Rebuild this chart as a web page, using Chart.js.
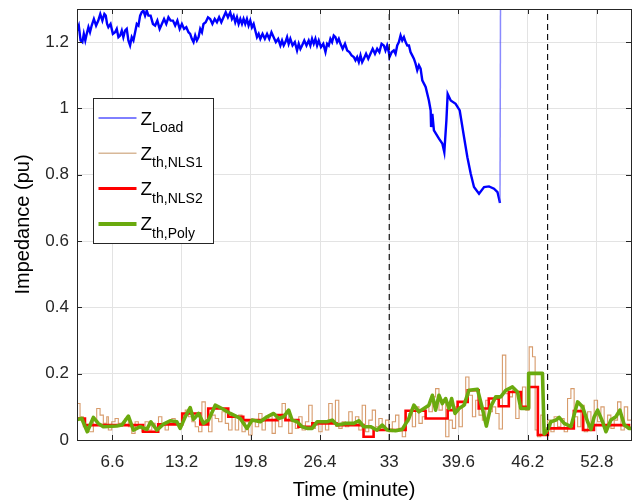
<!DOCTYPE html>
<html>
<head>
<meta charset="utf-8">
<script src="https://cdn.jsdelivr.net/npm/chart.js@4.4.1/dist/chart.umd.min.js"></script>
<style>
    html, body { margin: 0; padding: 0; background: #fff; }
    #wrap { width: 635px; height: 504px; }
</style>
</head>
<body>
<div id="wrap"><canvas id="chart" width="635" height="504"></canvas></div>
<script>
// --- data (time in minutes, impedance in pu) ---
const xTicks = [6.6, 13.2, 19.8, 26.4, 33, 39.6, 46.2, 52.8];
const yTicks = [0, 0.2, 0.4, 0.6, 0.8, 1, 1.2];
const markerTimes = [33.0, 48.1];

const loadTime = [3.23, 3.40, 3.57, 3.74, 3.88, 4.02, 4.16, 4.32, 4.47, 4.63, 4.84, 5.05, 5.26, 5.45, 5.65, 5.84,
    5.97, 6.10, 6.22, 6.43, 6.65, 6.86, 7.02, 7.18, 7.34, 7.50, 7.65, 7.81, 7.97, 8.13, 8.29, 8.45, 8.61, 8.77, 8.93, 9.09, 9.25,
    9.40, 9.56, 9.72, 9.88, 10.04, 10.25, 10.47, 10.68, 10.89, 11.11, 11.32, 11.53, 11.74, 11.95, 12.16, 12.38, 12.59, 12.80, 13.02, 13.23,
    13.44, 13.65, 13.86, 14.02, 14.18, 14.34, 14.50, 14.66, 14.82, 14.98, 15.14, 15.29, 15.50, 15.72, 15.93, 16.14, 16.36, 16.57, 16.78, 16.99, 17.20, 17.41, 17.62, 17.84,
    18.00, 18.16, 18.32, 18.48, 18.64, 18.80, 18.96, 19.11, 19.27, 19.43, 19.59, 19.75, 19.91, 20.07, 20.23, 20.39, 20.55, 20.71, 20.92, 21.14, 21.35, 21.56, 21.77, 21.98, 22.19, 22.41, 22.62,
    22.78, 22.94, 23.10, 23.26, 23.41, 23.57, 23.78, 24.00, 24.21, 24.37, 24.53, 24.69, 24.90, 25.11, 25.32, 25.48, 25.64, 25.80, 25.96, 26.12, 26.28, 26.49, 26.71, 26.92,
    27.08, 27.23, 27.39, 27.55, 27.71, 27.87, 28.03, 28.19, 28.35, 28.56, 28.78, 28.99, 29.20, 29.41, 29.62, 29.78, 29.94, 30.10, 30.26, 30.42, 30.58, 30.79, 31.00, 31.21, 31.42, 31.64, 31.85, 32.06, 32.27, 32.48, 32.64, 32.80, 32.96,
    33.03, 33.24, 33.44, 33.60, 33.76, 33.92, 34.08, 34.24, 34.40, 34.56, 34.72, 34.88, 35.03, 35.19, 35.35, 35.51, 35.67, 35.83, 35.99,
    36.15, 36.47, 36.78, 36.95, 36.99, 37.11, 37.26, 37.74, 38.06, 38.25, 38.45, 38.57, 38.86, 39.33, 39.72, 40.13, 40.45, 40.77, 41.08, 41.56, 42.04, 42.51, 42.99, 43.32, 43.56, 43.63];
const loadVals = [1.235, 1.25, 1.205, 1.20, 1.225, 1.205, 1.225, 1.245, 1.23, 1.25, 1.27, 1.25, 1.265, 1.285, 1.265, 1.285,
    1.28, 1.255, 1.245, 1.255, 1.225, 1.23, 1.24, 1.215, 1.22, 1.235, 1.215, 1.235, 1.24, 1.205, 1.19, 1.215, 1.205, 1.23, 1.255, 1.25, 1.28,
    1.29, 1.295, 1.28, 1.295, 1.28, 1.28, 1.255, 1.25, 1.265, 1.24, 1.255, 1.27, 1.255, 1.275, 1.265, 1.265, 1.25, 1.265, 1.24, 1.255,
    1.24, 1.245, 1.23, 1.225, 1.21, 1.20, 1.22, 1.205, 1.215, 1.24, 1.23, 1.255, 1.26, 1.275, 1.27, 1.255, 1.27, 1.26, 1.275, 1.26, 1.275, 1.29, 1.275, 1.29,
    1.27, 1.28, 1.26, 1.275, 1.255, 1.27, 1.255, 1.27, 1.255, 1.27, 1.25, 1.265, 1.245, 1.255, 1.235, 1.215, 1.225, 1.21, 1.225, 1.21, 1.225, 1.21, 1.23, 1.215, 1.20, 1.21, 1.19,
    1.205, 1.19, 1.20, 1.215, 1.195, 1.21, 1.19, 1.20, 1.175, 1.195, 1.18, 1.19, 1.205, 1.19, 1.205, 1.19, 1.21, 1.195, 1.21, 1.19, 1.205, 1.185, 1.195, 1.17,
    1.195, 1.19, 1.21, 1.20, 1.22, 1.215, 1.20, 1.21, 1.195, 1.18, 1.195, 1.175, 1.17, 1.16, 1.155, 1.145, 1.155, 1.14, 1.16, 1.14, 1.15, 1.165, 1.15, 1.165, 1.18, 1.165, 1.18, 1.17, 1.195, 1.19, 1.175, 1.19, 1.17,
    1.155, 1.17, 1.175, 1.165, 1.19, 1.20, 1.22, 1.205, 1.215, 1.20, 1.19, 1.19, 1.17, 1.16, 1.15, 1.135, 1.115, 1.13, 1.12,
    1.085, 1.065, 1.024, 0.994, 0.944, 0.984, 0.934, 0.909, 0.894, 0.868, 0.964, 1.044, 1.024, 1.014, 0.994, 0.914, 0.853, 0.803, 0.763, 0.743, 0.763, 0.765, 0.758, 0.748, 0.715, 1.6];

const nls1Time = [3.23, 3.52, 3.83, 4.31, 4.79, 5.11, 5.43, 5.74, 6.07, 6.22, 6.54, 6.86, 7.17, 7.50, 7.81,
    8.13, 8.45, 8.77, 9.08, 9.41, 9.72, 10.04, 10.36, 10.68, 11.00, 11.32, 11.63, 11.95, 12.27, 12.59,
    12.91, 13.23, 13.55, 13.86, 14.18, 14.50, 14.82, 15.14, 15.46, 15.77, 16.10, 16.41, 16.73, 17.05, 17.37,
    17.68, 18.01, 18.32, 18.64, 18.96, 19.27, 19.59, 19.92, 20.23, 20.55, 20.87, 21.19, 21.50, 21.83, 22.14,
    22.46, 22.78, 23.10, 23.41, 23.74, 24.05, 24.37, 24.69, 25.01, 25.32, 25.65, 25.96, 26.28, 26.60, 26.92,
    27.23, 27.56, 27.87, 28.19, 28.51, 28.83, 29.14, 29.47, 29.78, 30.10, 30.42, 30.74, 31.05, 31.38, 31.69,
    32.01, 32.33, 32.65, 32.96, 33.29, 33.60, 33.92, 34.24, 34.56, 34.87, 35.20, 35.51, 35.83, 36.15, 36.47,
    36.78, 37.11, 37.42, 37.74, 38.06, 38.38, 38.69, 39.02, 39.33, 39.65, 39.97, 40.29, 40.60, 40.93, 41.24,
    41.56, 41.88, 42.20, 42.51, 42.84, 43.15, 43.47, 43.79, 44.11, 44.42, 44.75, 45.06, 45.38, 45.70, 46.02,
    46.34, 46.66, 46.91, 47.14, 47.45, 47.77, 48.09, 48.41, 48.72, 49.05, 49.36, 49.68, 50.00, 50.32, 50.63,
    50.96, 51.27, 51.59, 51.91, 52.23, 52.54, 52.86, 53.18, 53.49, 53.82, 54.13, 54.45, 54.77, 55.09, 55.41,
    55.73, 56.05];
const nls1Vals = [0.110, 0.070, 0.040, 0.025, 0.060, 0.095, 0.075, 0.050, 0.070, 0.030, 0.055, 0.065, 0.050, 0.045, 0.065,
    0.040, 0.020, 0.055, 0.040, 0.025, 0.055, 0.030, 0.050, 0.035, 0.070, 0.045, 0.030, 0.055, 0.065, 0.050,
    0.040, 0.075, 0.090, 0.070, 0.055, 0.040, 0.025, 0.115, 0.060, 0.025, 0.075, 0.065, 0.055, 0.085, 0.050,
    0.030, 0.070, 0.030, 0.075, 0.025, 0.055, 0.015, 0.060, 0.040, 0.080, 0.030, 0.060, 0.075, 0.020, 0.065,
    0.040, 0.110, 0.085, 0.020, 0.060, 0.035, 0.070, 0.030, 0.055, 0.105, 0.035, 0.045, 0.025, 0.055, 0.030,
    0.110, 0.050, 0.120, 0.035, 0.055, 0.040, 0.085, 0.050, 0.070, 0.030, 0.105, 0.025, 0.060, 0.090, 0.040,
    0.065, 0.030, 0.060, 0.025, 0.055, 0.075, 0.035, 0.010, 0.055, 0.080, 0.040, 0.100, 0.050, 0.070, 0.100,
    0.085, 0.130, 0.155, 0.090, 0.120, 0.010, 0.060, 0.035, 0.100, 0.040, 0.105, 0.190, 0.135, 0.070, 0.120,
    0.075, 0.060, 0.120, 0.085, 0.100, 0.080, 0.033, 0.256, 0.140, 0.130, 0.150, 0.065, 0.100, 0.160, 0.090,
    0.281, 0.251, 0.030, 0.010, 0.075, 0.020, 0.060, 0.025, 0.070, 0.040, 0.065, 0.025, 0.125, 0.155, 0.070,
    0.040, 0.105, 0.025, 0.085, 0.050, 0.120, 0.055, 0.100, 0.040, 0.075, 0.035, 0.060, 0.115, 0.030, 0.100,
    0.060, 0.060];

const nls2Time = [3.23, 3.99, 9.53, 10.97, 13.26, 14.98, 15.74, 17.65, 19.08, 22.33, 23.10, 24.34, 25.67, 27.97, 30.55,
    31.51, 34.56, 36.47, 38.57, 39.52, 40.48, 41.53, 42.49, 43.44, 44.40, 45.55, 46.31, 47.17, 48.12, 50.60,
    51.47, 52.52, 55.86, 56.05];
const nls2Vals = [0.065, 0.045, 0.025, 0.047, 0.080, 0.047, 0.095, 0.070, 0.060, 0.075, 0.060, 0.040, 0.050, 0.045, 0.010,
    0.030, 0.088, 0.065, 0.090, 0.115, 0.150, 0.095, 0.125, 0.102, 0.145, 0.100, 0.160, 0.015, 0.035, 0.087,
    0.030, 0.045, 0.035, 0.035];

const polyTime = [3.26, 3.68, 4.21, 4.79, 5.26, 5.74, 7.02, 7.50, 8.13, 8.61, 9.25, 9.89, 10.27, 10.84, 11.47,
    12.11, 12.75, 13.07, 13.55, 14.02, 14.34, 14.82, 15.29, 15.77, 16.41, 17.05, 17.84, 18.80, 19.44, 19.92,
    20.71, 21.35, 21.98, 22.46, 22.93, 23.41, 23.74, 24.21, 24.69, 25.17, 25.65, 26.12, 27.08, 27.56, 28.03,
    28.83, 29.62, 30.10, 30.57, 31.21, 31.85, 32.33, 32.81, 33.60, 34.24, 34.87, 35.35, 35.83, 36.31, 36.78,
    37.11, 37.42, 37.74, 38.06, 38.38, 38.69, 38.95, 39.27, 39.65, 40.13, 40.60, 41.41, 41.88, 42.26, 42.67,
    43.15, 43.63, 44.11, 44.75, 45.23, 45.54, 46.28, 46.29, 47.61, 47.77, 48.09, 48.41, 48.88, 49.20, 49.68,
    50.32, 50.96, 51.43, 51.91, 52.23, 52.54, 52.87, 53.34, 53.66, 54.13, 54.61, 54.99, 55.41, 55.88, 56.05];
const polyVals = [0.062, 0.065, 0.025, 0.068, 0.050, 0.040, 0.042, 0.045, 0.072, 0.030, 0.040, 0.032, 0.055, 0.030, 0.048,
    0.058, 0.055, 0.035, 0.070, 0.098, 0.062, 0.080, 0.050, 0.060, 0.105, 0.095, 0.080, 0.065, 0.035, 0.060,
    0.055, 0.070, 0.080, 0.065, 0.070, 0.090, 0.060, 0.055, 0.040, 0.035, 0.035, 0.055, 0.055, 0.060, 0.045,
    0.050, 0.050, 0.058, 0.040, 0.040, 0.030, 0.045, 0.030, 0.028, 0.032, 0.065, 0.105, 0.085, 0.095, 0.105,
    0.135, 0.090, 0.135, 0.110, 0.125, 0.095, 0.125, 0.080, 0.095, 0.105, 0.150, 0.153, 0.095, 0.042, 0.100,
    0.130, 0.130, 0.150, 0.160, 0.145, 0.095, 0.095, 0.201, 0.201, 0.018, 0.030, 0.055, 0.060, 0.068, 0.050,
    0.040, 0.115, 0.100, 0.055, 0.032, 0.070, 0.090, 0.055, 0.025, 0.060, 0.070, 0.090, 0.045, 0.035, 0.035];

const seriesSub = ['Load', 'th,NLS1', 'th,NLS2', 'th,Poly'];
const seriesColors = ['#0000ff', '#d8b898', '#ff0000', '#6aaa0e'];
const seriesWidths = [1, 1.5, 3, 4];

const FONT = "'Liberation Sans', Arial, Helvetica, sans-serif";
const AXIS = '#262626';

const toPoints = (xs, ys) => xs.map((x, i) => ({ x, y: ys[i] }));

// MATLAB-style box with inward ticks
const boxPlugin = {
    id: 'box',
    afterDatasetsDraw(chart) {
        const { ctx, chartArea: a, scales: { x, y } } = chart;
        ctx.save();
        ctx.strokeStyle = AXIS;
        ctx.lineWidth = 1;
        ctx.beginPath();
        xTicks.forEach(v => {
            const px = Math.round(x.getPixelForValue(v)) + 0.5;
            ctx.moveTo(px, a.bottom); ctx.lineTo(px, a.bottom - 5);
            ctx.moveTo(px, a.top); ctx.lineTo(px, a.top + 5);
        });
        yTicks.forEach(v => {
            const py = Math.round(y.getPixelForValue(v)) + 0.5;
            ctx.moveTo(a.left, py); ctx.lineTo(a.left + 5, py);
            ctx.moveTo(a.right, py); ctx.lineTo(a.right - 5, py);
        });
        ctx.stroke();
        ctx.strokeRect(Math.round(a.left) + 0.5, Math.round(a.top) + 0.5,
            Math.round(a.right - a.left), Math.round(a.bottom - a.top));
        ctx.restore();
    }
};

// legend with subscripts, drawn by hand
const legendPlugin = {
    id: 'subLegend',
    afterDraw(chart) {
        const { ctx, chartArea: a } = chart;
        const x0 = Math.round(a.left) + 16.5, y0 = Math.round(a.top) + 89.5, w = 120, h = 145;
        ctx.save();
        ctx.fillStyle = '#fff';
        ctx.fillRect(x0, y0, w, h);
        ctx.strokeStyle = AXIS;
        ctx.lineWidth = 1;
        ctx.strokeRect(x0, y0, w, h);
        seriesSub.forEach((sub, i) => {
            const ly = y0 + 19.5 + i * 35.3;
            ctx.strokeStyle = seriesColors[i];
            ctx.lineWidth = seriesWidths[i];
            ctx.beginPath();
            ctx.moveTo(x0 + 5, ly); ctx.lineTo(x0 + 43, ly);
            ctx.stroke();
            ctx.fillStyle = '#000';
            ctx.textBaseline = 'alphabetic';
            ctx.font = `19px ${FONT}`;
            ctx.fillText('Z', x0 + 47, ly + 6.5);
            const zw = ctx.measureText('Z').width;
            ctx.font = `14px ${FONT}`;
            ctx.fillText(sub, x0 + 47 + zw, ly + 14);
        });
        ctx.restore();
    }
};

const lastLoad = loadTime.length - 1;

const datasets = [
    {
        data: toPoints(loadTime, loadVals),
        borderColor: seriesColors[0],
        borderWidth: 2.4,
        order: 4,
        segment: {
            borderColor: c => c.p1DataIndex === lastLoad ? 'rgba(60,60,255,0.6)' : undefined,
            borderWidth: c => c.p1DataIndex === lastLoad ? 1.5 : undefined
        }
    },
    {
        data: toPoints(nls1Time, nls1Vals),
        borderColor: 'rgba(205,130,70,0.8)',
        borderWidth: 1.1,
        stepped: true,
        order: 3
    },
    {
        data: toPoints(nls2Time, nls2Vals),
        borderColor: seriesColors[2],
        borderWidth: 2.6,
        stepped: true,
        order: 2
    },
    {
        data: toPoints(polyTime, polyVals),
        borderColor: seriesColors[3],
        borderWidth: 3.6,
        borderJoinStyle: 'round',
        order: 1
    }
];

markerTimes.forEach(t => {
    datasets.push({
        data: [{ x: t, y: 0 }, { x: t, y: 1.3 }],
        borderColor: '#000',
        borderWidth: 1.1,
        borderDash: [6, 4],
        order: 0
    });
});

datasets.forEach(d => {
    d.pointRadius = 0;
    d.fill = false;
    d.tension = 0;
    d.clip = 0;
});

new Chart(document.getElementById('chart'), {
    type: 'line',
    data: { datasets },
    plugins: [boxPlugin, legendPlugin],
    options: {
        responsive: false,
        animation: false,
        layout: { padding: { top: 9, right: 4, left: 0, bottom: 0 } },
        plugins: { legend: { display: false }, tooltip: { enabled: false } },
        scales: {
            x: {
                type: 'linear',
                min: 3.23,
                max: 56.05,
                afterBuildTicks: s => { s.ticks = xTicks.map(v => ({ value: v })); },
                afterFit: s => { s.height = 64; s.paddingLeft = 0; s.paddingRight = 0; },
                ticks: {
                    color: AXIS,
                    font: { family: FONT, size: 17 },
                    padding: 12,
                    maxRotation: 0,
                    callback: v => String(v)
                },
                grid: { color: '#e3e3e3', drawTicks: false },
                border: { display: false },
                title: {
                    display: true,
                    text: 'Time (minute)',
                    color: '#000',
                    font: { family: FONT, size: 20 },
                    padding: { top: 0, bottom: 2 }
                }
            },
            y: {
                min: 0,
                max: 1.3,
                afterBuildTicks: s => { s.ticks = yTicks.map(v => ({ value: v })); },
                afterFit: s => { s.width = 77; s.paddingTop = 0; s.paddingBottom = 0; },
                ticks: {
                    color: AXIS,
                    font: { family: FONT, size: 17 },
                    padding: 8,
                    callback: v => String(v)
                },
                grid: { color: '#e3e3e3', drawTicks: false },
                border: { display: false },
                title: {
                    display: true,
                    text: 'Impedance (pu)',
                    color: '#000',
                    font: { family: FONT, size: 20 },
                    padding: { top: 11, bottom: 0 }
                }
            }
        }
    }
});
</script>
</body>
</html>
